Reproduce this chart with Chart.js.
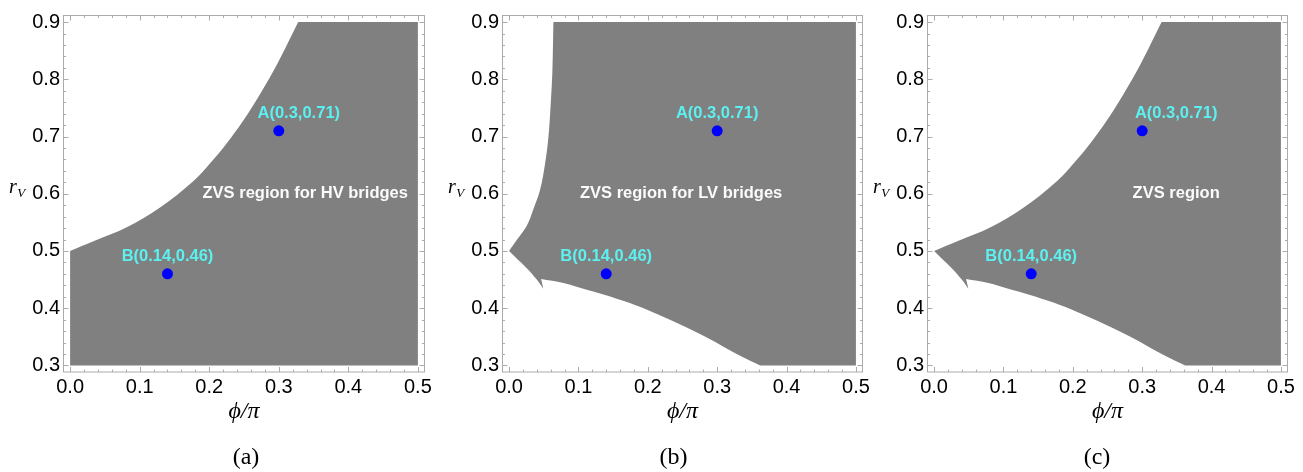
<!DOCTYPE html>
<html>
<head>
<meta charset="utf-8">
<script src="https://cdn.jsdelivr.net/npm/chart.js@4.4.1/dist/chart.umd.min.js"></script>
<style>
html,body{margin:0;padding:0;background:#fff;overflow:hidden;width:1303px;height:472px;}
canvas{position:absolute;top:0;}
</style>
</head>
<body>
<canvas id="ca" width="440" height="472" style="left:0px"></canvas>
<canvas id="cb" width="440" height="472" style="left:439px"></canvas>
<canvas id="cc" width="439" height="472" style="left:864px"></canvas>
<script>
// ---------- data ----------
const X_TICKS = [0.0, 0.1, 0.2, 0.3, 0.4, 0.5];
const Y_TICKS = [0.3, 0.4, 0.5, 0.6, 0.7, 0.8, 0.9];
const X_RANGE = [0, 0.5];
const Y_RANGE = [0.3, 0.9];

const POINT_NAMES = ['A', 'B'];
const POINT_X = [0.3, 0.14];
const POINT_Y = [0.71, 0.46];

// HV-bridge ZVS boundary (upper-left edge), from (0,0.5) up to the top
const HV_X = [0, 0.0335, 0.0814, 0.1293, 0.177, 0.201, 0.225, 0.249, 0.273, 0.297, 0.321, 0.328];
const HV_Y = [0.5, 0.517, 0.5415, 0.576, 0.622, 0.653, 0.688, 0.728, 0.774, 0.825, 0.883, 0.9];

// LV-bridge ZVS boundary: left edge from the top down to the tip at (0,0.5)
const LV_LEFT_X = [0.0639, 0.0624, 0.0600, 0.0567, 0.0519, 0.0447, 0.035, 0.0255, 0.011, 0];
const LV_LEFT_Y = [0.9, 0.814, 0.757, 0.699, 0.653, 0.607, 0.573, 0.544, 0.519, 0.5];
// LV lower-left edge: tip -> bottom of the notch
const LV_NOTCH_X = [0, 0.011, 0.0255, 0.0399, 0.0494];
const LV_NOTCH_Y = [0.5, 0.487, 0.470, 0.450, 0.434];
// LV lower edge: top of the notch -> bottom of the plot
const LV_LOW_X = [0.0461, 0.0783, 0.107, 0.136, 0.174, 0.203, 0.246, 0.285, 0.333, 0.362];
const LV_LOW_Y = [0.451, 0.444, 0.434, 0.424, 0.409, 0.395, 0.372, 0.349, 0.317, 0.3];

const REGION_TEXT = ['ZVS region for HV bridges', 'ZVS region for LV bridges', 'ZVS region'];
const REGION_TEXT_AT = [[0.338, 0.6], [0.248, 0.6], [0.349, 0.6]];
const CAPTIONS = ['(a)', '(b)', '(c)'];

// ---------- polygons built from the boundaries ----------
// Each run is a smooth piece; runs meet at sharp corners.
const pts = (xs, ys) => xs.map((v, i) => ({x: v, y: ys[i]}));
const rev = a => a.slice().reverse();
const P = (x, y) => ({x, y});
const polyFromRuns = runs => [].concat(...runs);
const [x0, x1] = X_RANGE, [y0, y1] = Y_RANGE;
const hv = pts(HV_X, HV_Y), lvLeft = pts(LV_LEFT_X, LV_LEFT_Y),
      lvNotch = pts(LV_NOTCH_X, LV_NOTCH_Y), lvLow = pts(LV_LOW_X, LV_LOW_Y);
const hvTop = hv[hv.length - 1], lvTop = lvLeft[0], lvBot = lvLow[lvLow.length - 1];

const polyA = polyFromRuns([
  hv, [hvTop, P(x1, y1)], [P(x1, y1), P(x1, y0)], [P(x1, y0), P(x0, y0)], [P(x0, y0), hv[0]]
]);
const polyB = polyFromRuns([
  lvLeft, lvNotch, [lvNotch[lvNotch.length - 1], lvLow[0]], lvLow,
  [lvBot, P(x1, y0)], [P(x1, y0), P(x1, y1)], [P(x1, y1), lvTop]
]);
const polyC = polyFromRuns([
  hv, [hvTop, P(x1, y1)], [P(x1, y1), P(x1, y0)], [P(x1, y0), lvBot], rev(lvLow),
  [lvLow[0], lvNotch[lvNotch.length - 1]], rev(lvNotch)
]);

// ---------- plugin: frame, ticks, texts ----------
const annotate = {
  id: 'annotate',
  afterDatasetsDraw(chart, args, o) {
    const {ctx, chartArea: a, scales: {x, y}} = chart;
    ctx.save();
    ctx.strokeStyle = '#ababab';
    ctx.lineWidth = 1;
    ctx.strokeRect(a.left, a.top, a.right - a.left, a.bottom - a.top);
    const seg = (xa, ya, xb, yb) => { ctx.beginPath(); ctx.moveTo(xa, ya); ctx.lineTo(xb, yb); ctx.stroke(); };
    for (let k = 0; k <= 25; k++) {
      const v = k * 0.02, len = (k % 5 === 0) ? 5 : 2.5;
      const px = Math.round(x.getPixelForValue(v)) + 0.5;
      seg(px, a.bottom, px, a.bottom - len);
      seg(px, a.top, px, a.top + len);
    }
    for (let k = 0; k <= 30; k++) {
      const v = 0.3 + k * 0.02, len = (k % 5 === 0) ? 5 : 2.5;
      const py = Math.round(y.getPixelForValue(v)) + 0.5;
      seg(a.left, py, a.left + len, py);
      seg(a.right, py, a.right - len, py);
    }
    // region text
    ctx.textAlign = 'center';
    ctx.textBaseline = 'middle';
    ctx.font = 'bold 16.5px "Liberation Sans", Arial, sans-serif';
    ctx.fillStyle = '#fbfbfb';
    ctx.fillText(o.text, x.getPixelForValue(o.textAt[0]), y.getPixelForValue(o.textAt[1]));
    // point labels
    ctx.fillStyle = '#5cf0f0';
    POINT_X.forEach((px, i) => {
      ctx.fillText(POINT_NAMES[i] + '(' + px + ',' + POINT_Y[i] + ')',
        x.getPixelForValue(px) + o.labelDx[i], y.getPixelForValue(POINT_Y[i]) - 17);
    });
    // y label r_V
    ctx.fillStyle = '#000';
    ctx.textAlign = 'left';
    ctx.textBaseline = 'alphabetic';
    ctx.font = 'italic 20px "Liberation Serif", "Times New Roman", serif';
    const rx = a.left - 54.5;
    ctx.fillText('r', rx, 192.5);
    const rw = ctx.measureText('r').width;
    ctx.font = 'italic 13px "Liberation Serif", "Times New Roman", serif';
    ctx.fillText('V', rx + rw + 0.5, 196.5);
    // caption
    ctx.textAlign = 'center';
    ctx.textBaseline = 'middle';
    ctx.font = '24px "Liberation Serif", "Times New Roman", serif';
    ctx.fillText(o.caption, (a.left + a.right) / 2 + o.captionDx, 458);
    ctx.restore();
  }
};

function makeChart(id, poly, idx, padRight, labelDx, captionDx) {
  const pad = 0.0095;
  new Chart(document.getElementById(id), {
    type: 'scatter',
    data: {
      datasets: [
        {
          data: pts(POINT_X, POINT_Y),
          backgroundColor: '#0000ff',
          borderWidth: 0,
          pointRadius: 5.5,
          order: 0
        },
        {
          data: poly,
          showLine: true,
          fill: 'shape',
          backgroundColor: '#808080',
          borderColor: 'rgba(0,0,0,0)',
          borderWidth: 0,
          pointRadius: 0,
          tension: 0.35,
          order: 1
        }
      ]
    },
    options: {
      responsive: false,
      animation: false,
      events: [],
      layout: {padding: {left: 0, top: 10, right: padRight, bottom: 0}},
      plugins: {
        legend: {display: false},
        tooltip: {enabled: false},
        annotate: {
          text: REGION_TEXT[idx], textAt: REGION_TEXT_AT[idx],
          caption: CAPTIONS[idx], captionDx: captionDx, labelDx: labelDx
        }
      },
      scales: {
        x: {
          type: 'linear',
          min: X_RANGE[0] - pad, max: X_RANGE[1] + pad,
          afterBuildTicks: s => { s.ticks = X_TICKS.map(v => ({value: v})); },
          afterFit: s => { s.height = 100; },
          grid: {display: false, drawTicks: false},
          border: {display: false},
          ticks: {
            padding: 3,
            maxRotation: 0,
            autoSkip: false,
            color: '#000',
            font: {family: '"Liberation Sans", Arial, sans-serif', size: 20},
            callback: v => v.toFixed(1)
          },
          title: {
            display: true,
            text: 'ϕ/π',
            color: '#000',
            font: {family: '"Liberation Serif", "DejaVu Serif", "Times New Roman", serif', size: 24, style: 'italic'},
            padding: {top: 0, bottom: 46}
          }
        },
        y: {
          type: 'linear',
          min: Y_RANGE[0] - 0.0115, max: Y_RANGE[1] + 0.0115,
          afterBuildTicks: s => { s.ticks = Y_TICKS.map(v => ({value: v})); },
          afterFit: s => { s.width = 63.5; },
          grid: {display: false, drawTicks: false},
          border: {display: false},
          ticks: {
            padding: 3.5,
            autoSkip: false,
            color: '#000',
            font: {family: '"Liberation Sans", Arial, sans-serif', size: 20},
            callback: v => v.toFixed(1)
          }
        }
      }
    },
    plugins: [annotate]
  });
}

makeChart('ca', polyA, 0, 15.5, [20, 0], 2);
makeChart('cb', polyB, 1, 16.5, [0, 0], -9);
makeChart('cc', polyC, 2, 15.5, [34, 0], -10.5);
</script>
</body>
</html>
